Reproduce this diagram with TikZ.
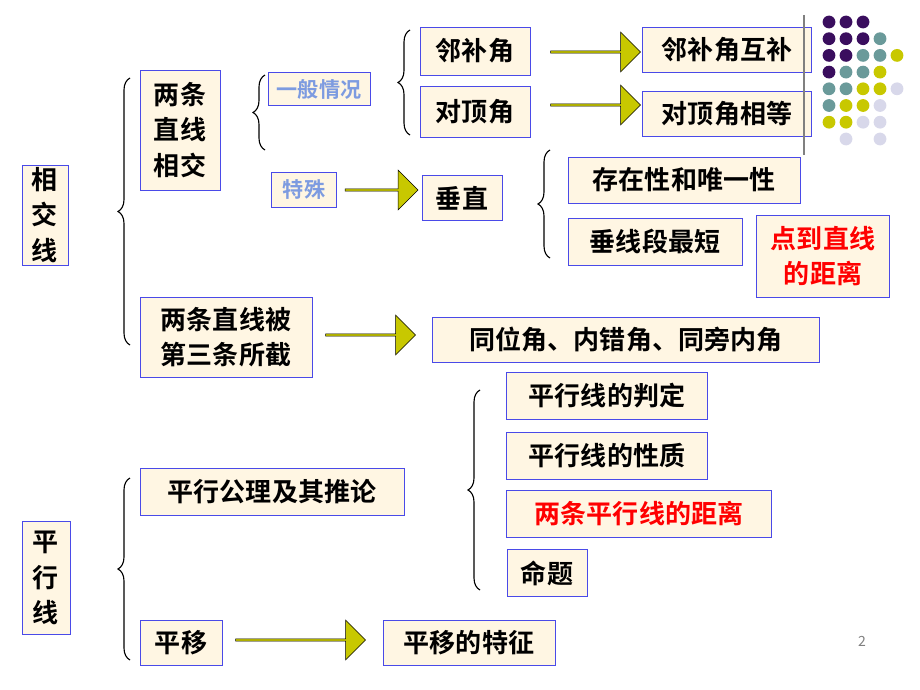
\documentclass[tikz,border=0pt]{standalone}
\usepackage{fontspec}
\setmainfont{Noto Sans CJK SC}[BoldFont={* Bold}]
\usetikzlibrary{shapes.arrows,decorations.pathreplacing}
\definecolor{boxfill}{HTML}{FFF6E3}
\definecolor{boxline}{HTML}{4A4AE8}
\definecolor{arrowfill}{HTML}{C8C800}
\definecolor{lightblue}{HTML}{7D9BE0}
\definecolor{dotP}{HTML}{3A0E5E}
\definecolor{dotT}{HTML}{6A9A9A}
\definecolor{dotY}{HTML}{C8C800}
\definecolor{dotL}{HTML}{D8D8EA}
\tikzset{
  box/.style 2 args={draw=boxline, fill=boxfill, inner sep=0pt, align=center,
    minimum width=#1*0.025cm, minimum height=#2*0.025cm,
    font=\fontsize{18.5}{25}\selectfont\bfseries},
  fat/.style={single arrow, draw=black, fill=arrowfill, inner sep=0pt,
    minimum height=#1*0.025cm, minimum width=1cm, single arrow head extend=0.12cm},
  brc/.style={decorate, decoration={brace, amplitude=0.3cm}, thick},
  dot/.style={circle, fill=#1, inner sep=0pt, minimum size=0.32cm}
}
\begin{document}
\begin{tikzpicture}[x=0.025cm,y=-0.025cm]
\useasboundingbox (0,0) rectangle (920,690);

% intersecting lines
\node[box={46}{100}] (xj) at (45,215) {相\\交\\线};
\node[box={80}{120}] (lx) at (180,130) {两条\\直线\\相交};
\node[box={102}{33}, text=lightblue, font=\fontsize{15}{18}\selectfont\bfseries] (yb) at (319,89) {一般情况};
\node[box={65}{35}, text=lightblue, font=\fontsize{15}{18}\selectfont\bfseries] (ts) at (304,190) {特殊};
\node[box={110}{48}] (lb) at (475,51) {邻补角};
\node[box={110}{51}] (dd) at (475,112) {对顶角};
\node[box={169}{45}] (lbh) at (727,50) {邻补角互补};
\node[box={169}{45}] (ddx) at (727,114) {对顶角相等};
\node[box={80}{45}] (cz) at (462,198) {垂直};
\node[box={232}{46}] (cw) at (684,180) {存在性和唯一性};
\node[box={174}{47}] (cd) at (655,242) {垂线段最短};
\node[box={133}{82}, text=red] (jl) at (823,256) {点到直线\\的距离};
\node[box={172}{80}] (bj) at (226,337) {两条直线被\\第三条所截};
\node[box={387}{45}] (tw) at (626,340) {同位角、内错角、同旁内角};

% parallel lines
\node[box={48}{113}] (px) at (46,578) {平\\行\\线};
\node[box={264}{47}] (gl) at (272,492) {平行公理及其推论};
\node[box={82}{45}] (py) at (181,643) {平移};
\node[box={172}{45}] (tz) at (469,643) {平移的特征};
\node[box={201}{47}] (pd) at (607,396) {平行线的判定};
\node[box={201}{47}] (pz) at (607,456) {平行线的性质};
\node[box={265}{47}, text=red] (jli) at (639,514) {两条平行线的距离};
\node[box={80}{47}] (mt) at (547,573) {命题};

% fat arrows
\node[fat=90] (a1) at (595,52) {};
\node[fat=90] (a2) at (595,105) {};
\node[fat=73] (a3) at (381,190) {};
\node[fat=90] (a4) at (370,335) {};
\node[fat=130] (a5) at (300,640) {};

% braces
\draw[brc] (130,345) -- (130,78);
\draw[brc] (265,150) -- (265,75);
\draw[brc] (410,135) -- (410,30);
\draw[brc] (550,258) -- (550,150);
\draw[brc] (480,590) -- (480,390);
\draw[brc] (130,660) -- (130,478);

% corner dots
\draw[gray, thick] (804,15) -- (804,155);
\foreach \r/\cols in {0/{P,P,P},1/{P,P,P,T},2/{P,P,T,T,Y},3/{P,T,T,Y},4/{T,T,Y,Y,L},5/{T,Y,Y,L},6/{Y,Y,L,L}}
  \foreach \c [count=\i from 0] in \cols
    \node[dot=dot\c] at (829+17*\i,22+16.7*\r) {};
\node[dot=dotL] at (846,139) {};
\node[dot=dotL] at (880,139) {};

\node[text=gray, font=\fontsize{10}{12}\selectfont] (pg) at (862,641) {2};
\end{tikzpicture}
\end{document}
